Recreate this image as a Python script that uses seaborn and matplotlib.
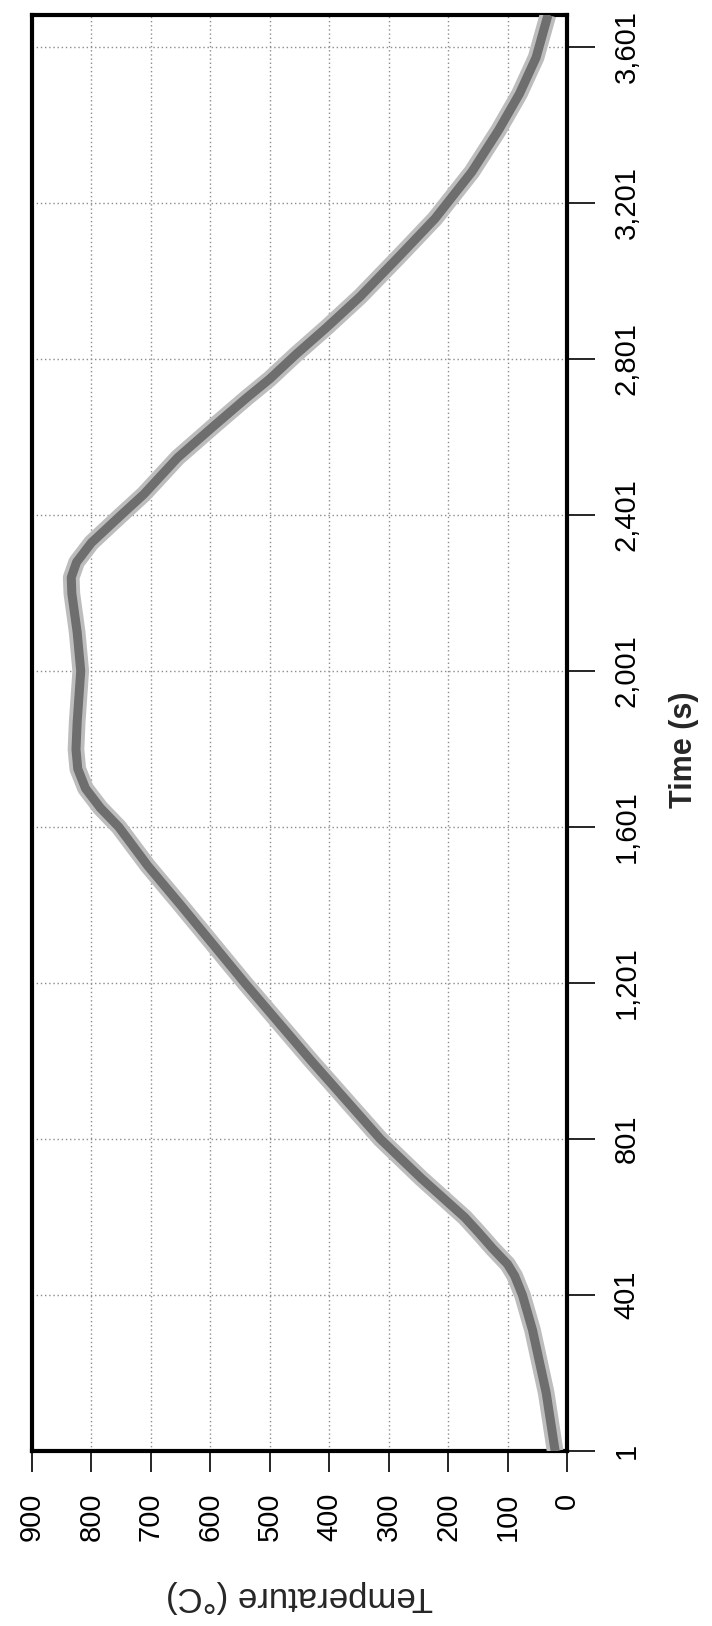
import matplotlib
matplotlib.use("Agg")
import matplotlib.pyplot as plt
import seaborn as sns

# ---- data ----
time_s = [1, 150, 311, 401, 450, 480, 520, 560, 600, 700, 801, 1001, 1201, 1401,
          1501, 1601, 1650, 1700, 1750, 1800, 1870, 2001, 2100, 2200, 2241,
          2280, 2330, 2401, 2454, 2548, 2628, 2700, 2750, 2814, 2881, 2961, 3068,
          3161, 3281, 3388, 3481, 3574, 3683]
temp_c = [20, 35, 58, 75, 88, 100, 125, 148, 172, 245, 314, 430, 542, 650,
          705, 754, 785, 810, 823, 826, 824, 818, 824, 833, 834,
          825, 800, 750, 712, 655, 595, 540, 500, 455, 405, 348, 280,
          222, 160, 115, 80, 52, 32]
time_ticks = [1, 401, 801, 1201, 1601, 2001, 2401, 2801, 3201, 3601]
time_tick_labels = ["1", "401", "801", "1,201", "1,601", "2,001", "2,401", "2,801", "3,201", "3,601"]
temp_ticks = [0, 100, 200, 300, 400, 500, 600, 700, 800, 900]
temp_tick_labels = [str(v) for v in temp_ticks]

sns.set_theme(style="white")
plt.rcParams['font.family'] = ['Liberation Sans', 'DejaVu Sans']

W, H = 712, 1626
fig = plt.figure(figsize=(W / 100, H / 100), dpi=100)
left, right, top, bottom = 32, 567, 15, 1451
ax = fig.add_axes([left / W, 1 - bottom / H, (right - left) / W, (bottom - top) / H])

sns.lineplot(x=temp_c, y=time_s, sort=False, estimator=None, ax=ax,
             color="#bdbdbd", linewidth=12, solid_capstyle="butt",
             solid_joinstyle="round", zorder=3)
sns.lineplot(x=temp_c, y=time_s, sort=False, estimator=None, ax=ax,
             color="#6e6e6e", linewidth=6.5, solid_capstyle="butt",
             solid_joinstyle="round", zorder=4)

ax.set_xlim(900, 0)
ax.set_ylim(1, 3683)
ax.set_xticks(temp_ticks)
ax.set_xticklabels(temp_tick_labels, rotation=90, fontsize=21)
ax.set_yticks(time_ticks)
ax.set_yticklabels(time_tick_labels, rotation=90, fontsize=21, va="center")

ax.yaxis.tick_right()
ax.tick_params(axis="x", bottom=True, direction="out", length=15, width=1.2,
               pad=15, color="black", labelcolor="black")
ax.tick_params(axis="y", right=True, left=False, direction="out", length=20,
               width=1.2, pad=13, color="black", labelcolor="black")

ax.grid(True, linestyle=(0, (1, 2)), color="#8c8c8c", linewidth=1.0, zorder=0)
for s in ax.spines.values():
    s.set_visible(True)
    s.set_color("black")
    s.set_linewidth(3)

ax.set_xlabel("Temperature (°C)", rotation=180, fontsize=25, ha="center", va="center")
ax.xaxis.set_label_coords(0.5, -0.101)
ax.yaxis.set_label_position("right")
ax.set_ylabel("Time (s)", rotation=90, fontsize=22, fontweight="bold", ha="center", va="center")
ax.yaxis.set_label_coords((684 - left) / (right - left), 1 - (750 - top) / (bottom - top))

fig.savefig("out.png", dpi=100)
